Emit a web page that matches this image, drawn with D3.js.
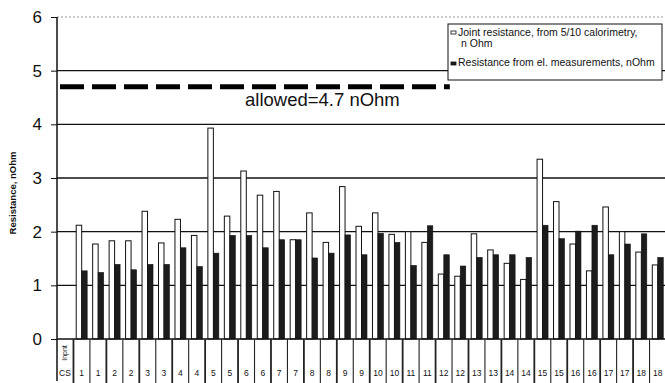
<!DOCTYPE html>
<html>
<head>
<meta charset="utf-8">
<script src="https://cdn.jsdelivr.net/npm/d3@7"></script>
<style>
  html, body { margin: 0; padding: 0; background: #fff; }
  svg { display: block; font-family: "Liberation Sans", Arial, sans-serif; }
</style>
</head>
<body>
<svg id="chart" width="665" height="383"></svg>
<script>
// Joint resistance per cable-sample position (two measurements per sample).
const categories = ["1","1","2","2","3","3","4","4","5","5","6","6","7","7","8","8","9","9",
                    "10","10","11","11","12","12","13","13","14","14","15","15","16","16","17","17","18","18"];
const calorimetry = [2.12,1.77,1.83,1.83,2.38,1.79,2.23,1.93,3.93,2.29,3.13,2.68,2.75,1.85,2.35,1.80,2.84,2.10,
                     2.35,1.95,2.00,1.80,1.21,1.17,1.96,1.66,1.41,1.11,3.35,2.56,1.77,1.27,2.46,2.00,1.62,1.38];
const electrical  = [1.27,1.24,1.39,1.29,1.39,1.39,1.70,1.35,1.60,1.93,1.93,1.70,1.85,1.85,1.51,1.60,1.94,1.57,
                     1.97,1.80,1.37,2.11,1.57,1.36,1.52,1.57,1.57,1.52,2.12,1.87,2.01,2.12,1.57,1.77,1.96,1.52];
const yTicks = [0,1,2,3,4,5,6];
const allowed = 4.7;
const seriesNames = ["Joint resistance, from 5/10 calorimetry,", "Resistance from el. measurements, nOhm"];

const svg = d3.select("#chart");
const W = 665, H = 383;
const plotLeft = 57, plotRight = 666, plotTop = 17, plotBottom = 339;

// First column holds the "Inpnt / CS" row header, then one column per measurement.
const colKeys = ["head"].concat(categories.map((c, i) => "c" + i));
const x = d3.scaleBand().domain(colKeys).range([plotLeft, plotRight]).paddingInner(0).paddingOuter(0);
const inner = d3.scaleBand().domain(["cal","el"]).range([0, x.bandwidth()]).paddingInner(0).paddingOuter(0.5);
const y = d3.scaleLinear().domain([0, 6]).range([plotBottom, plotTop]);

// Gridlines
svg.append("g").selectAll("line").data(yTicks.filter(t => t > 0)).join("line")
  .attr("x1", plotLeft).attr("x2", W)
  .attr("y1", d => y(d)).attr("y2", d => y(d))
  .attr("stroke", d => d === 6 ? "#999" : "#111")
  .attr("stroke-width", d => d === 6 ? 1 : 1.3)
  .attr("stroke-dasharray", d => d === 6 ? "2,2" : null);

// Bars
const rows = categories.map((c, i) => ({ key: "c" + i, cal: calorimetry[i], el: electrical[i] }));
const g = svg.append("g");
g.selectAll("rect.cal").data(rows).join("rect").attr("class", "cal")
  .attr("x", d => x(d.key) + inner("cal"))
  .attr("y", d => y(d.cal))
  .attr("width", inner.bandwidth())
  .attr("height", d => y(0) - y(d.cal))
  .attr("fill", "#fff").attr("stroke", "#111").attr("stroke-width", 1);
g.selectAll("rect.el").data(rows).join("rect").attr("class", "el")
  .attr("x", d => x(d.key) + inner("el"))
  .attr("y", d => y(d.el))
  .attr("width", inner.bandwidth())
  .attr("height", d => y(0) - y(d.el))
  .attr("fill", "#1c1c1c").attr("stroke", "#111").attr("stroke-width", 0.6);

// Allowed-resistance reference line
svg.append("line")
  .attr("x1", plotLeft + 3).attr("x2", plotLeft + (plotRight - plotLeft) * 0.645)
  .attr("y1", y(allowed)).attr("y2", y(allowed))
  .attr("stroke", "#000").attr("stroke-width", 5)
  .attr("stroke-dasharray", "24,8");
svg.append("text")
  .attr("x", 245).attr("y", 106)
  .attr("font-size", 18.5).attr("fill", "#111")
  .text("allowed=" + allowed + " nOhm");

// Y axis
const yAxis = d3.axisLeft(y).tickValues(yTicks).tickSize(6).tickPadding(9).tickFormat(d3.format("d"));
const ya = svg.append("g").attr("transform", `translate(${plotLeft},0)`).call(yAxis);
ya.select(".domain").remove();
ya.selectAll(".tick line").attr("stroke", "#111");
ya.selectAll(".tick text").attr("font-size", 17).attr("fill", "#111")
  .attr("font-family", "Liberation Sans, Arial, sans-serif");
svg.append("line").attr("x1", plotLeft).attr("x2", plotLeft).attr("y1", plotTop).attr("y2", H - 2)
  .attr("stroke", "#111").attr("stroke-width", 1.5);

svg.append("text")
  .attr("transform", `translate(16,${(plotTop + plotBottom) / 2 + 15}) rotate(-90)`)
  .attr("text-anchor", "middle").attr("font-size", 9.5).attr("font-weight", "bold").attr("fill", "#111")
  .text("Resistance, nOhm");

// Category table under the plot
svg.append("line").attr("x1", plotLeft).attr("x2", W).attr("y1", plotBottom).attr("y2", plotBottom)
  .attr("stroke", "#111").attr("stroke-width", 1.5);
const seps = colKeys.slice(1).map(k => x(k));
svg.append("g").selectAll("line").data(seps).join("line")
  .attr("x1", d => d).attr("x2", d => d)
  .attr("y1", plotBottom).attr("y2", H)
  .attr("stroke", "#222").attr("stroke-width", (d, i) => i % 2 === 0 ? 1.8 : 1.1);

svg.append("g").selectAll("text").data(rows).join("text")
  .attr("x", d => x(d.key) + x.bandwidth() / 2)
  .attr("y", 376)
  .attr("text-anchor", "middle").attr("font-size", 8.5).attr("fill", "#111")
  .text((d, i) => categories[i]);

svg.append("text")
  .attr("transform", `translate(${x("head") + x.bandwidth() / 2 + 2},353) rotate(-90)`)
  .attr("text-anchor", "middle").attr("font-size", 7).attr("fill", "#111")
  .text("Inpnt");
svg.append("text")
  .attr("x", x("head") + 2).attr("y", 376)
  .attr("font-size", 8.5).attr("fill", "#111")
  .text("CS");

// Legend
const lg = svg.append("g").attr("transform", "translate(448,24)");
lg.append("rect").attr("width", 214).attr("height", 56)
  .attr("fill", "#fff").attr("stroke", "#111").attr("stroke-width", 1);
lg.append("rect").attr("x", 3).attr("y", 7).attr("width", 5).attr("height", 3)
  .attr("fill", "#fff").attr("stroke", "#111").attr("stroke-width", 0.8);
lg.append("rect").attr("x", 3).attr("y", 38).attr("width", 5).attr("height", 3)
  .attr("fill", "#1c1c1c").attr("stroke", "#111").attr("stroke-width", 0.8);
lg.append("text").attr("x", 10).attr("y", 12).attr("font-size", 10.5).attr("fill", "#111").text(seriesNames[0]);
lg.append("text").attr("x", 13).attr("y", 23).attr("font-size", 10.5).attr("fill", "#111").text("n Ohm");
lg.append("text").attr("x", 10).attr("y", 42).attr("font-size", 10.5).attr("fill", "#111").text(seriesNames[1]);
</script>
</body>
</html>
